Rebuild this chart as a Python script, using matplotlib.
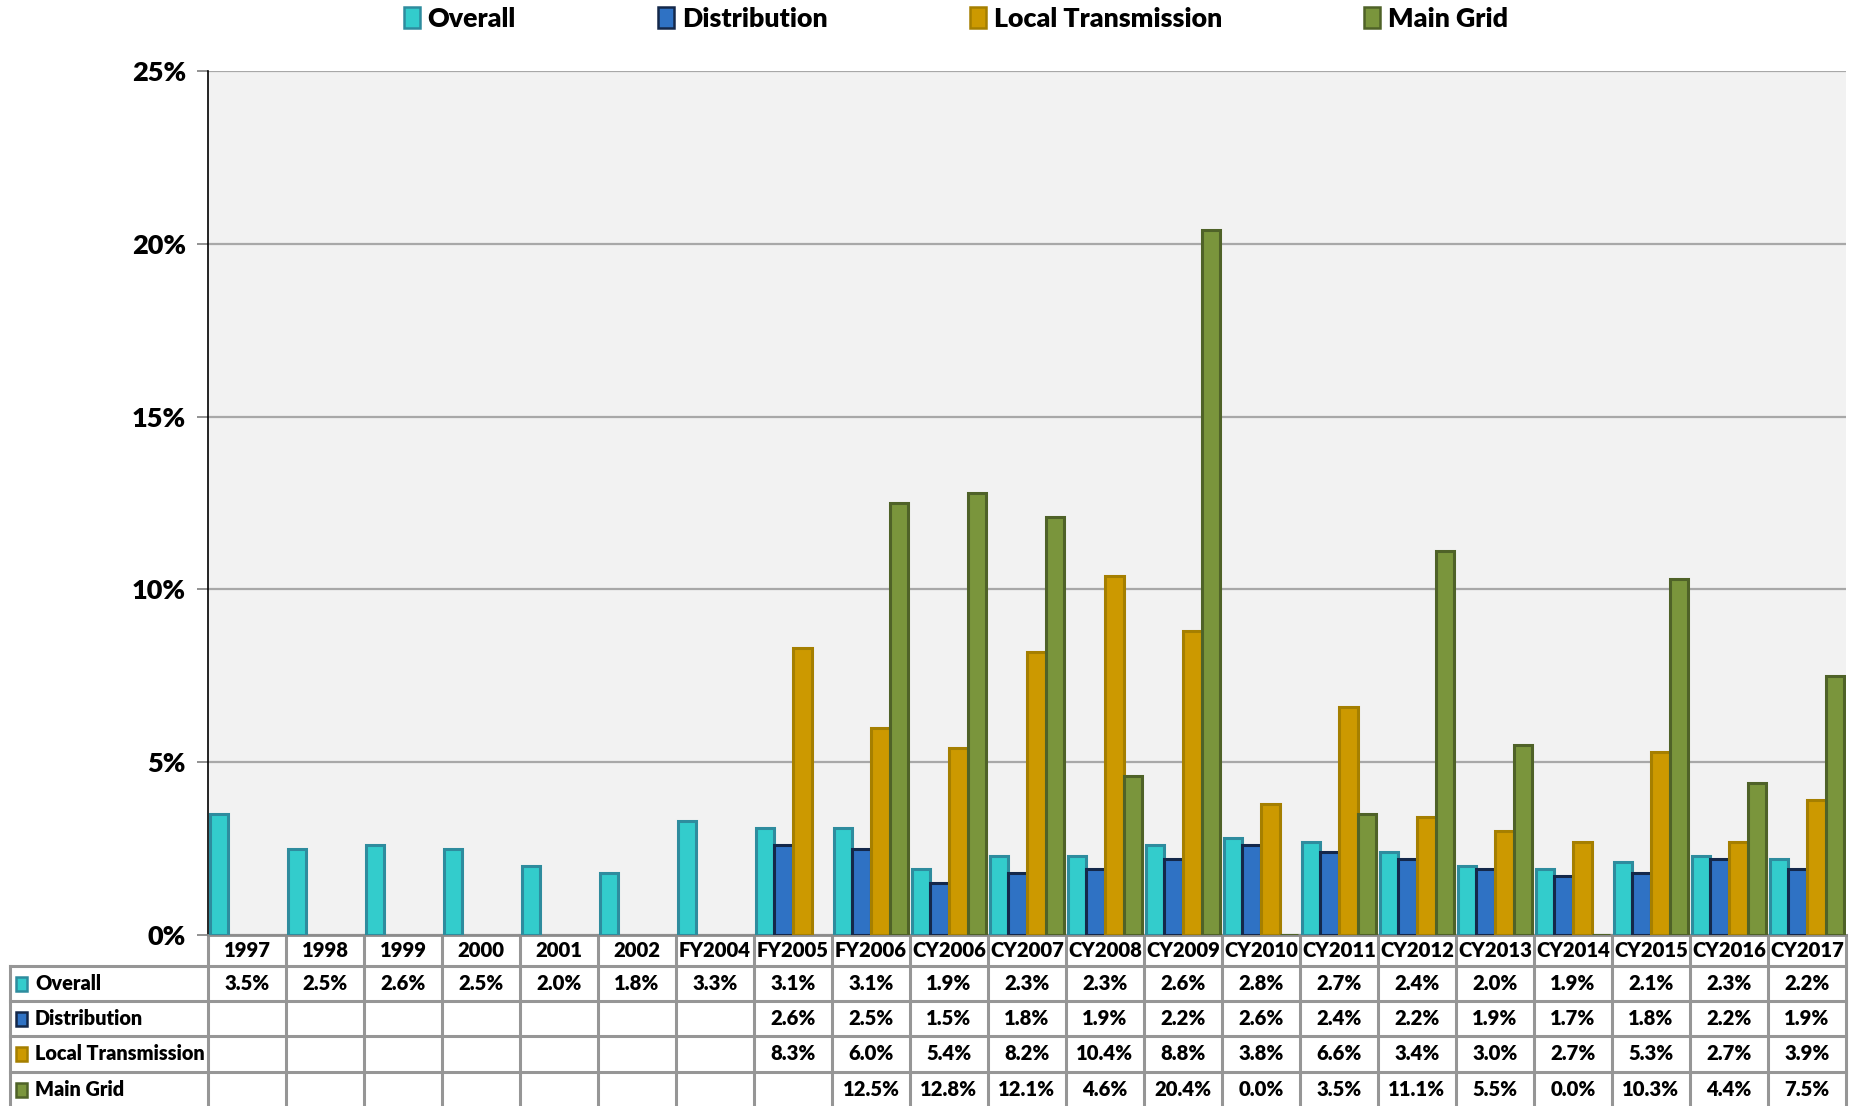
import matplotlib
matplotlib.use("Agg")
import matplotlib.pyplot as plt
import matplotlib.patches as mpatches
from matplotlib.transforms import blended_transform_factory
import numpy as np

categories = ['1997', '1998', '1999', '2000', '2001', '2002', 'FY2004', 'FY2005',
              'FY2006', 'CY2006', 'CY2007', 'CY2008', 'CY2009', 'CY2010', 'CY2011',
              'CY2012', 'CY2013', 'CY2014', 'CY2015', 'CY2016', 'CY2017']
overall = [3.5, 2.5, 2.6, 2.5, 2.0, 1.8, 3.3, 3.1, 3.1, 1.9, 2.3, 2.3, 2.6, 2.8, 2.7,
           2.4, 2.0, 1.9, 2.1, 2.3, 2.2]
distribution = [None] * 7 + [2.6, 2.5, 1.5, 1.8, 1.9, 2.2, 2.6, 2.4, 2.2, 1.9, 1.7, 1.8, 2.2, 1.9]
local_transmission = [None] * 7 + [8.3, 6.0, 5.4, 8.2, 10.4, 8.8, 3.8, 6.6, 3.4, 3.0, 2.7, 5.3, 2.7, 3.9]
main_grid = [None] * 8 + [12.5, 12.8, 12.1, 4.6, 20.4, 0.0, 3.5, 11.1, 5.5, 0.0, 10.3, 4.4, 7.5]
series_names = ['Overall', 'Distribution', 'Local Transmission', 'Main Grid']
y_ticks = [0, 5, 10, 15, 20, 25]

series = [overall, distribution, local_transmission, main_grid]
faces = ['#33CCCC', '#2F72C4', '#CC9900', '#7A953C']
edges = ['#2E8C9E', '#14284A', '#A57F00', '#4F6228']

plt.rcParams['font.family'] = ['Lato', 'DejaVu Sans']
WT = 'heavy'

W, H = 1851, 1106
fig = plt.figure(figsize=(W / 100, H / 100), dpi=100)
L, R, T, B = 208, 1846, 71, 935
ax = fig.add_axes([L / W, 1 - B / H, (R - L) / W, (B - T) / H])
ax.set_facecolor('#F2F2F2')

n = len(categories)
x = np.arange(n)
gap = 0.04
bw = (1 - gap) / 4
for i, (vals, fc, ec) in enumerate(zip(series, faces, edges)):
    xs = [xi for xi, v in zip(x, vals) if v is not None]
    vs = [v for v in vals if v is not None]
    offs = -0.5 + gap / 2 + bw * (i + 0.5)
    ax.bar(np.array(xs) + offs, vs, width=bw, color=fc, edgecolor=ec, linewidth=2.2, zorder=3)

ax.set_xlim(-0.5, n - 0.5)
ax.set_ylim(0, 25)
ax.set_yticks(y_ticks)
ax.set_yticklabels([f'{t}%' for t in y_ticks], fontsize=19.5, fontweight=WT)
ax.tick_params(axis='y', length=8, width=1.2, color='#7F7F7F', pad=8)
ax.tick_params(axis='x', bottom=False, labelbottom=False)
ax.yaxis.grid(True, color='#A8A8A8', linewidth=1.6, zorder=0)
ax.set_axisbelow(True)
for s in ['top', 'right']:
    ax.spines[s].set_visible(False)
ax.spines['left'].set_color('black')
ax.spines['left'].set_linewidth(1.2)
ax.spines['bottom'].set_color('#8C8C8C')
ax.spines['bottom'].set_linewidth(2)

# ---------- data table ----------
axh = B - T
def ay(py):
    return (B - py) / axh
trans = blended_transform_factory(ax.transData, ax.transAxes)
ftrans = fig.transFigure
grid_c = '#969696'
lw = 2.2
row_edges = [935, 966, 1001, 1036, 1072, 1108]
label_left = 10
tfs = 14.6

for py in row_edges[1:]:
    fig.add_artist(plt.Line2D([label_left / W, R / W], [1 - py / H, 1 - py / H],
                              color=grid_c, linewidth=lw, transform=ftrans, clip_on=False))
for b in np.arange(n + 1) - 0.5:
    ax.plot([b, b], [0, ay(row_edges[-1])], color=grid_c, linewidth=lw,
            transform=trans, clip_on=False, zorder=1)
fig.add_artist(plt.Line2D([label_left / W, label_left / W], [1 - 966 / H, 1 - 1108 / H],
                          color=grid_c, linewidth=lw, transform=ftrans))

hy = ay((row_edges[0] + row_edges[1]) / 2)
for xi, c in zip(x, categories):
    ax.text(xi, hy, c, transform=trans, ha='center', va='center', fontsize=tfs,
            fontweight=WT, clip_on=False)

for r, (name, vals, fc, ec) in enumerate(zip(series_names, series, faces, edges)):
    cy_px = (row_edges[r + 1] + row_edges[r + 2]) / 2
    cy = ay(cy_px)
    for xi, v in zip(x, vals):
        if v is not None:
            ax.text(xi, cy, f'{v:.1f}%', transform=trans, ha='center', va='center',
                    fontsize=tfs, fontweight=WT, clip_on=False)
    fig.add_artist(mpatches.Rectangle((16 / W, 1 - (cy_px + 7) / H), 11 / W, 14 / H,
                                      facecolor=fc, edgecolor=ec, linewidth=1.8,
                                      transform=ftrans))
    fig.text(35 / W, 1 - cy_px / H, name, ha='left', va='center', fontsize=14.3,
             fontweight=WT)

handles = [mpatches.Patch(facecolor=fc, edgecolor=ec, linewidth=1.8) for fc, ec in zip(faces, edges)]
fig.legend(handles, series_names, loc='center', bbox_to_anchor=(956 / W, 1 - 19 / H),
           ncol=4, frameon=False, prop={'weight': WT, 'size': 19.3},
           columnspacing=5.3, handlelength=0.6, handleheight=0.85, handletextpad=0.3)

fig.savefig('out.png', dpi=100)
